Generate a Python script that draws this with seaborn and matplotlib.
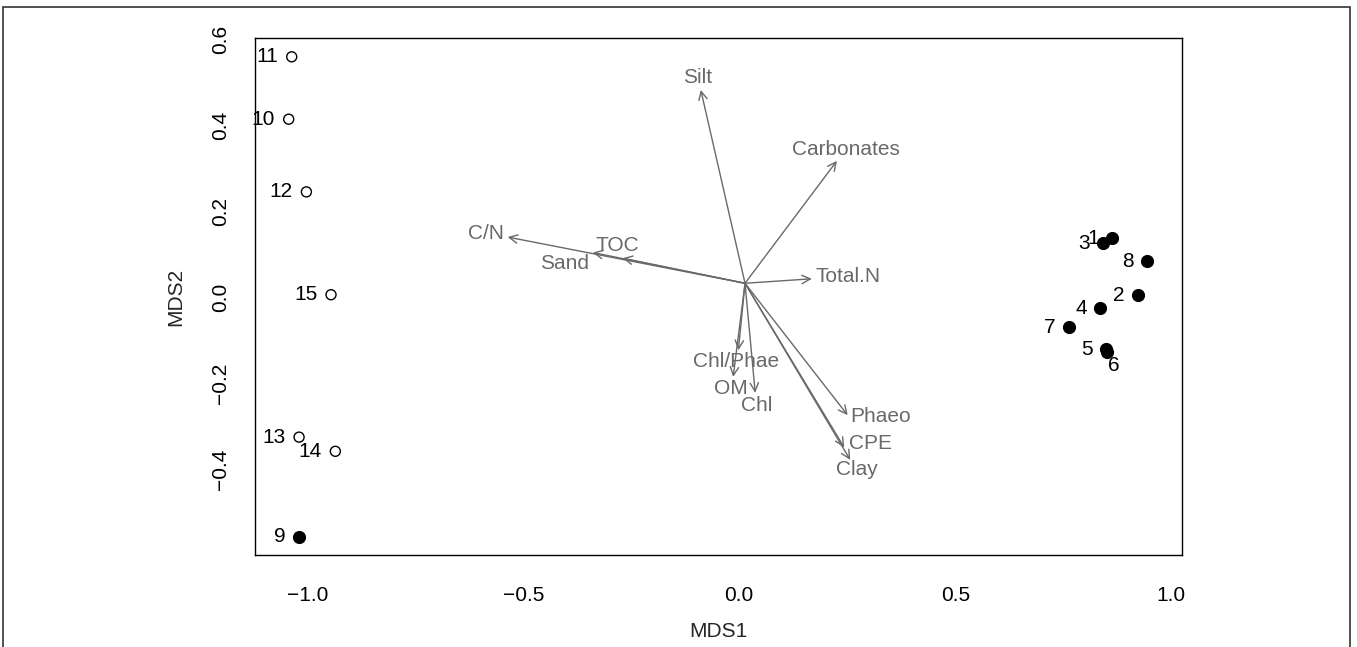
import numpy as np
import pandas as pd
import seaborn as sns
import matplotlib.pyplot as plt
from matplotlib.patches import Rectangle

# site scores (NMDS)
sites = ['1', '2', '3', '4', '5', '6', '7', '8', '9', '10', '11', '12', '13', '14', '15']
mds1 = [0.863, 0.922, 0.842, 0.836, 0.849, 0.852, 0.764, 0.944, -1.019,
        -1.043, -1.036, -1.002, -1.019, -0.935, -0.945]
mds2 = [0.137, 0.005, 0.126, -0.025, -0.121, -0.128, -0.070, 0.084, -0.556,
        0.414, 0.559, 0.245, -0.325, -0.358, 0.006]
filled = [True] * 9 + [False] * 6

# environmental vectors (envfit)
env_vars = ['Silt', 'Carbonates', 'C/N', 'TOC', 'Sand', 'Total.N',
            'Chl/Phae', 'OM', 'Chl', 'Phaeo', 'CPE', 'Clay']
env_x = [-0.089, 0.226, -0.536, -0.270, -0.339, 0.168,
         -0.002, -0.014, 0.037, 0.251, 0.243, 0.257]
env_y = [0.482, 0.317, 0.140, 0.091, 0.104, 0.043,
         -0.123, -0.185, -0.222, -0.274, -0.349, -0.378]
origin = (0.0134, 0.0326)

x_ticks = [-1.0, -0.5, 0.0, 0.5, 1.0]
y_ticks = [-0.4, -0.2, 0.0, 0.2, 0.4, 0.6]

# label placement (pixel offsets, y down) - styling only
site_label_off = {s: (-13.5, 0) for s in sites}
site_label_off['6'] = (7, 13)
env_label_off = {'Silt': (-3, -12), 'Carbonates': (9, -11), 'C/N': (-22, -4),
                 'TOC': (-5, -13), 'Sand': (-28, 11), 'Total.N': (36, -2),
                 'Chl/Phae': (-2, 11), 'OM': (-2, 12), 'Chl': (1, 13),
                 'Phaeo': (33, 1), 'CPE': (26, -4), 'Clay': (7, 10)}

sns.set_style('white')
plt.rcParams['font.family'] = ['Liberation Sans', 'DejaVu Sans']
FS = 15
GREY = '#696969'
px = 0.72  # points per pixel at dpi 100


def fmt(v):
    return ('%.1f' % v).replace('-', '\u2212')


sites_df = pd.DataFrame({'site': sites, 'MDS1': mds1, 'MDS2': mds2, 'filled': filled})

fig = plt.figure(figsize=(13.57, 6.47), dpi=100)
ax = fig.add_axes([255 / 1357, 1 - 555 / 647, (1182 - 255) / 1357, (555 - 38.3) / 647])

sns.scatterplot(data=sites_df[sites_df.filled], x='MDS1', y='MDS2', ax=ax,
                color='black', edgecolor='black', s=75, linewidth=0.8, zorder=3)
sns.scatterplot(data=sites_df[~sites_df.filled], x='MDS1', y='MDS2', ax=ax,
                facecolor='none', edgecolor='black', s=52, linewidth=1.0, zorder=3)

for s, x, y in zip(sites, mds1, mds2):
    dx, dy = site_label_off[s]
    ha = 'right' if s != '6' else 'center'
    ax.annotate(s, (x, y), xytext=(dx * px, -dy * px), textcoords='offset points',
                ha=ha, va='center', fontsize=FS, color='black')

for name, x, y in zip(env_vars, env_x, env_y):
    ax.annotate('', xy=(x, y), xytext=origin,
                arrowprops=dict(arrowstyle='->,head_length=0.6,head_width=0.3',
                                color=GREY, lw=1.0, shrinkA=0, shrinkB=0,
                                mutation_scale=10))
    dx, dy = env_label_off[name]
    ax.annotate(name, (x, y), xytext=(dx * px, -dy * px), textcoords='offset points',
                ha='center', va='center', fontsize=FS, color=GREY)

ax.set_xlim(-1.121, 1.025)
ax.set_ylim(-0.599, 0.602)
ax.set_xticks(x_ticks)
ax.set_xticklabels([fmt(v) for v in x_ticks])
ax.set_yticks(y_ticks)
ax.set_yticklabels([fmt(v) for v in y_ticks], rotation=90, va='center')
ax.tick_params(direction='out', length=8.6, width=1.0, colors='black', labelsize=FS)
ax.tick_params(axis='x', pad=13.7)
ax.tick_params(axis='y', pad=9.4)
ax.set_xlabel('MDS1', fontsize=FS, labelpad=12.4)
ax.set_ylabel('MDS2', fontsize=FS, labelpad=18.8)
for sp in ax.spines.values():
    sp.set_visible(True)
    sp.set_color('black')
    sp.set_linewidth(1.0)

fig.add_artist(Rectangle((3 / 1357, -0.05), 1347 / 1357, 1 - 7 / 647 + 0.05,
                         transform=fig.transFigure, fill=False, ec='#333333', lw=1.2))

plt.savefig('out.png', dpi=100)
